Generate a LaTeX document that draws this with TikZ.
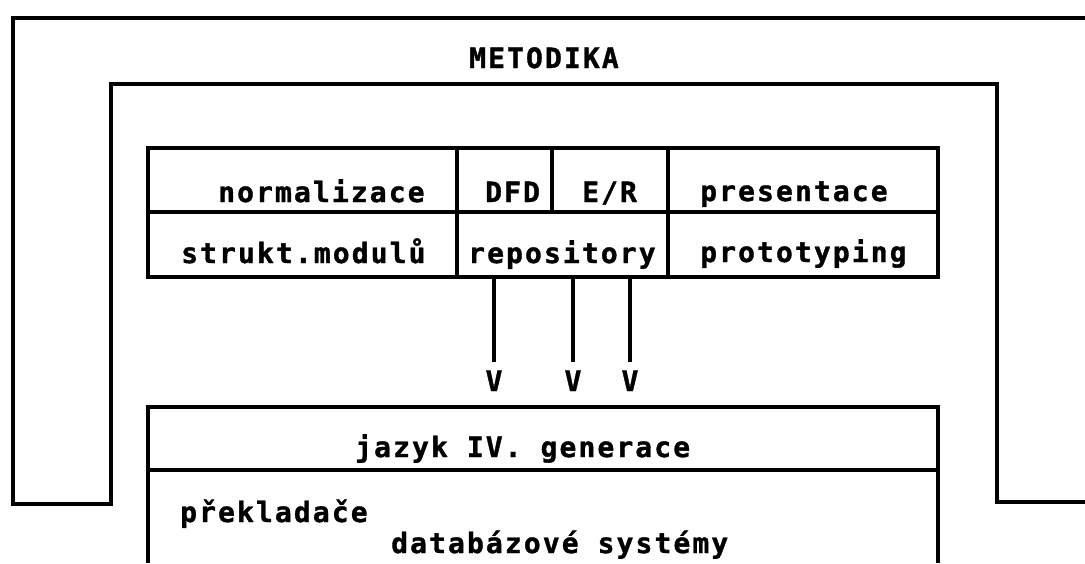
\documentclass[tikz,border=0pt]{standalone}
\usepackage{fontspec}
% chunky fixed-pitch lettering, widened to a 19pt character pitch
\newfontfamily\dotfont{DejaVu Sans Mono}[LetterSpace=7.5, BoldFeatures={FakeBold=1.2}]
\begin{document}
\begin{tikzpicture}[x=1pt,y=-1pt,
  frame/.style={line width=3.5pt, line join=miter},
  label/.style={font=\dotfont\bfseries\fontsize{28}{30}\selectfont, inner sep=0pt, anchor=base west},
  head/.style={font=\dotfont\bfseries\fontsize{28}{30}\selectfont, inner sep=0pt, anchor=base},
  link/.style={line width=3.5pt, shorten >=8pt}]
\useasboundingbox (0,0) rectangle (1085,563);

% methodology frame (double U-shaped band)
\draw[frame] (1085,18) -- (13,18) -- (13,504) -- (111,504) -- (111,84)
  -- (997,84) -- (997,502) -- (1085,502);
\node[label] (metodika) at (469,68) {METODIKA};

% table of techniques
\draw[frame] (148,148) rectangle (938,277);
\draw[frame] (148,212) -- (938,212);
\draw[frame] (457,148) -- (457,277);
\draw[frame] (668,148) -- (668,277);
\draw[frame] (552,148) -- (552,212);

\node[label] (norm)  at (218,202) {normalizace};
\node[label] (dfd)   at (485,202) {DFD};
\node[label] (er)    at (582,202) {E/R};
\node[label] (pres)  at (700,201) {presentace};
\node[label] (strukt) at (181,263) {strukt.modulů};
\node[label] (repo)  at (468,263) {repository};
\node[label] (proto) at (700,262) {prototyping};

% links from the repository down to the 4GL box
\coordinate (t1) at (494,277);
\coordinate (t2) at (573,277);
\coordinate (t3) at (630,277);
\node[head] (v1) at (494,391) {V};
\node[head] (v2) at (573,391) {V};
\node[head] (v3) at (630,391) {V};
\draw[link] (t1) -- (t1 |- v1.north);
\draw[link] (t2) -- (t2 |- v2.north);
\draw[link] (t3) -- (t3 |- v3.north);

% fourth-generation language box
\draw[frame] (148,563) -- (148,407) -- (938,407) -- (938,563);
\draw[frame] (148,470) -- (938,470);
\node[label] (jazyk) at (355,457) {jazyk IV. generace};
\node[label] (prekl) at (180,522) {překladače};
\node[label] (dbs)   at (391,553) {databázové systémy};
\end{tikzpicture}
\end{document}
